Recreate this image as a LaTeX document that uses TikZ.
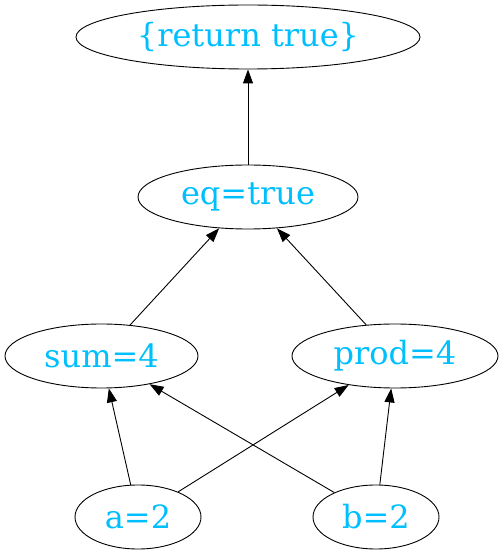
\documentclass[tikz,border=0pt]{standalone}
\usepackage{fontspec}
\setmainfont{DejaVu Serif}
\usetikzlibrary{shapes.geometric,arrows.meta}
\definecolor{dsb}{RGB}{0,191,255}
\tikzset{
  gnode/.style={ellipse,draw=black,line width=0.9pt,inner sep=0pt,text=dsb,font=\fontsize{32}{38}\selectfont,minimum height=64pt},
  gedge/.style={draw=black,line width=0.9pt,-{Triangle[length=14pt,width=10pt]}}
}
\begin{document}
\begin{tikzpicture}[x=1pt,y=1pt]
\useasboundingbox (0,0) rectangle (501,555);
\node[gnode,minimum width=344pt] (ret) at (248,518) {\{return true\}};
\node[gnode,minimum width=220pt] (eq) at (248,358) {eq=true};
\node[gnode,minimum width=193pt] (sum) at (101.5,199) {sum=4};
\node[gnode,minimum width=206pt] (prod) at (395,199) {prod=4};
\node[gnode,minimum width=126pt] (a) at (138,38) {a=2};
\node[gnode,minimum width=126pt] (b) at (376,38) {b=2};
\draw[gedge] (eq) -- (ret);
\draw[gedge] (sum) -- (eq);
\draw[gedge] (prod) -- (eq);
\draw[gedge] (a) -- (sum);
\draw[gedge] (a) -- (prod);
\draw[gedge] (b) -- (sum);
\draw[gedge] (b) -- (prod);
\end{tikzpicture}
\end{document}
